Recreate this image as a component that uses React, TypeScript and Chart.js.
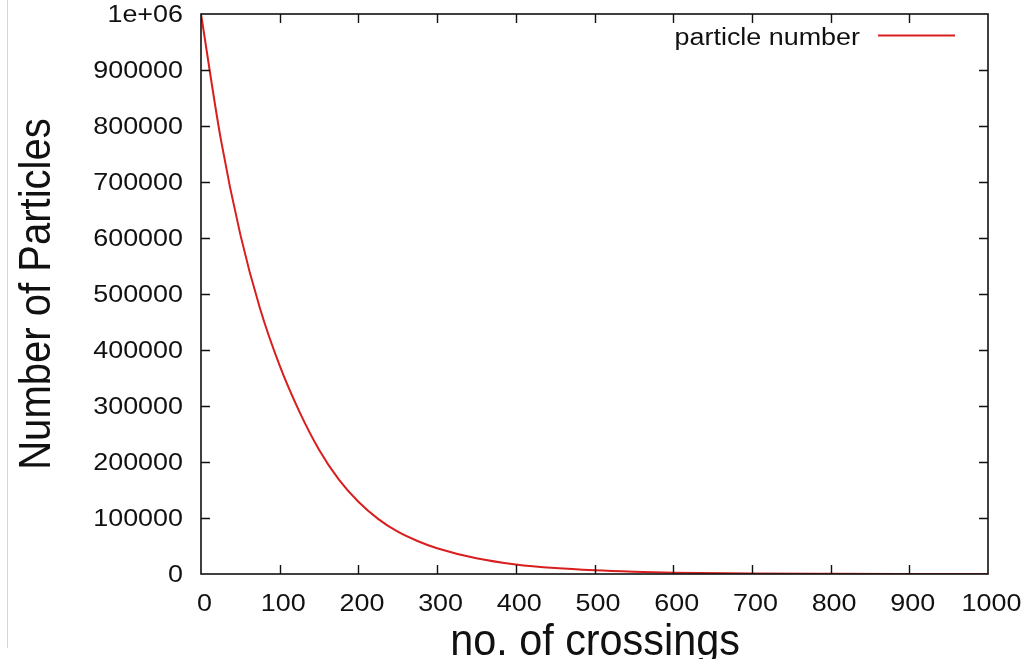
import { useEffect, useRef } from "react";
import { Chart, registerables } from "chart.js";

Chart.register(...registerables);

// Particle count remaining after each number of crossings
const crossings = [0, 25, 50, 75, 100, 125, 150, 175, 200, 225, 250, 275, 300, 350, 400, 450, 500, 550, 600, 700, 800, 900, 1000];
const particles = [1000000, 778000, 606000, 474000, 372000, 290000, 222000, 169000, 129000, 98500, 75500, 59000, 46000, 28000, 17000, 10500, 6500, 4000, 2400, 900, 330, 120, 45];

const xTickValues = [0, 100, 200, 300, 400, 500, 600, 700, 800, 900, 1000];
const xTickLabels = ["0", "100", "200", "300", "400", "500", "600", "700", "800", "900", "1000"];
const yTickValues = [0, 100000, 200000, 300000, 400000, 500000, 600000, 700000, 800000, 900000, 1000000];
const yTickLabels = ["0", "100000", "200000", "300000", "400000", "500000", "600000", "700000", "800000", "900000", "1e+06"];

const seriesLabel = "particle number";
const xTitle = "no. of crossings";
const yTitle = "Number of Particles";

const LINE_COLOR = "#d81e1e";
const FONT = '"Liberation Sans", Arial, Helvetica, sans-serif';

function stretchedText(
  ctx: CanvasRenderingContext2D,
  text: string,
  x: number,
  y: number,
  size: number,
  sx: number,
  align: CanvasTextAlign,
  rotate = false
) {
  ctx.save();
  ctx.translate(x, y);
  if (rotate) ctx.rotate(-Math.PI / 2);
  ctx.scale(sx, 1);
  ctx.font = `${size}px ${FONT}`;
  ctx.textAlign = align;
  ctx.textBaseline = "alphabetic";
  ctx.fillStyle = "#111";
  ctx.fillText(text, 0, 0);
  ctx.restore();
}

// Gnuplot-like frame: boxed border, inward mirrored ticks, labels, key
const framePlugin = {
  id: "gnuplotFrame",
  afterDatasetsDraw(chart: any) {
    const ctx: CanvasRenderingContext2D = chart.ctx;
    const { left, right, top, bottom } = chart.chartArea;
    const xs = chart.scales.x;
    const ys = chart.scales.y;

    // faint page edge line
    ctx.save();
    ctx.strokeStyle = "#d6d6d6";
    ctx.lineWidth = 1;
    ctx.beginPath();
    ctx.moveTo(7.5, 0);
    ctx.lineTo(7.5, 648);
    ctx.stroke();
    ctx.restore();

    ctx.save();
    ctx.strokeStyle = "#111";
    ctx.lineWidth = 1.6;
    ctx.strokeRect(left, top, right - left, bottom - top);

    const tick = 9;
    ctx.lineWidth = 1.4;
    ctx.beginPath();
    xTickValues.forEach((v) => {
      const px = Math.round(xs.getPixelForValue(v)) + 0.5;
      if (v !== xs.min && v !== xs.max) {
        ctx.moveTo(px, bottom);
        ctx.lineTo(px, bottom - tick);
        ctx.moveTo(px, top);
        ctx.lineTo(px, top + tick);
      }
    });
    yTickValues.forEach((v) => {
      const py = Math.round(ys.getPixelForValue(v)) + 0.5;
      if (v !== ys.min && v !== ys.max) {
        ctx.moveTo(left, py);
        ctx.lineTo(left + tick, py);
        ctx.moveTo(right, py);
        ctx.lineTo(right - tick, py);
      }
    });
    ctx.stroke();
    ctx.restore();

    // tick labels
    yTickValues.forEach((v, i) => {
      const py = ys.getPixelForValue(v);
      stretchedText(ctx, yTickLabels[i], 183, py + 8.3, 23, 1.17, "right");
    });
    xTickValues.forEach((v, i) => {
      const px = xs.getPixelForValue(v);
      stretchedText(ctx, xTickLabels[i], px + 3.5, 611, 23, 1.17, "center");
    });

    // axis titles
    stretchedText(ctx, xTitle, 595, 655, 44, 0.94, "center");
    stretchedText(ctx, yTitle, 50, 294, 44, 0.91, "center", true);

    // key
    stretchedText(ctx, seriesLabel, 860, 45, 23, 1.17, "right");
    ctx.save();
    ctx.strokeStyle = LINE_COLOR;
    ctx.lineWidth = 2;
    ctx.beginPath();
    ctx.moveTo(878, 35.5);
    ctx.lineTo(955, 35.5);
    ctx.stroke();
    ctx.restore();
  },
};

export default function App() {
  const canvasRef = useRef<HTMLCanvasElement | null>(null);

  useEffect(() => {
    const canvas = canvasRef.current;
    if (!canvas) return;
    const chart = new Chart(canvas, {
      type: "line",
      data: {
        datasets: [
          {
            label: seriesLabel,
            data: crossings.map((c, i) => ({ x: c, y: particles[i] })),
            borderColor: LINE_COLOR,
            borderWidth: 2,
            pointRadius: 0,
            fill: false,
            cubicInterpolationMode: "monotone",
          },
        ],
      },
      options: {
        responsive: false,
        animation: false,
        layout: { padding: { left: 201, top: 14, right: 46, bottom: 85 } },
        scales: {
          x: { type: "linear", min: 0, max: 1000, display: false },
          y: { type: "linear", min: 0, max: 1000000, display: false },
        },
        plugins: {
          legend: { display: false },
          tooltip: { enabled: false },
        },
      },
      plugins: [framePlugin],
    });
    return () => chart.destroy();
  }, []);

  return (
    <div style={{ position: "absolute", left: 0, top: 0, width: 1034, height: 659, background: "#fff", overflow: "hidden" }}>
      <canvas ref={canvasRef} width={1034} height={659} />
    </div>
  );
}
